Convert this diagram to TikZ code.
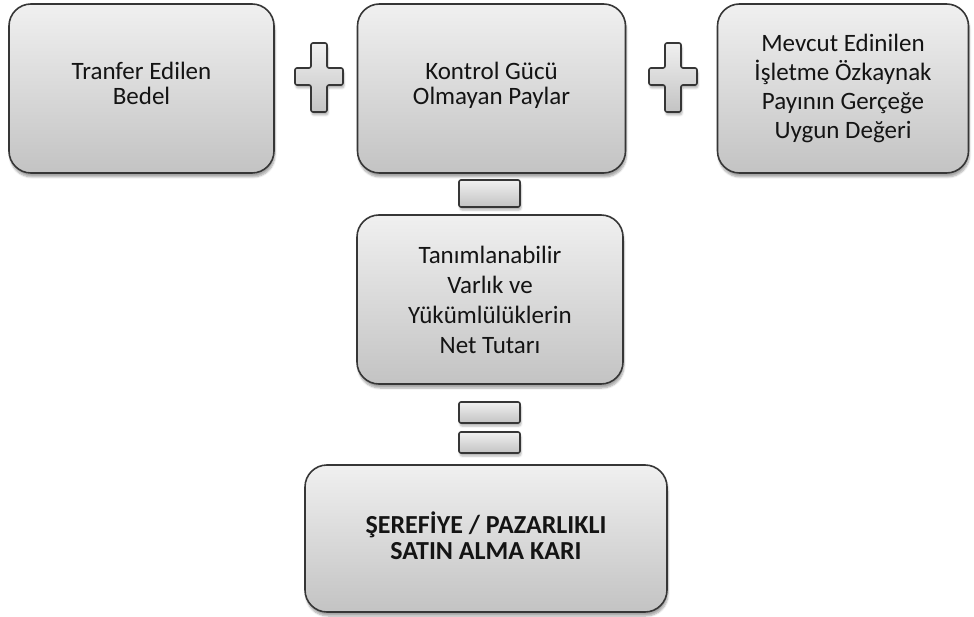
\documentclass[tikz,border=0pt]{standalone}
\usepackage{fontspec}
\setmainfont{Carlito}
\usepackage{tikz}
\usetikzlibrary{shadows.blur}
\usepackage{xcolor}
\definecolor{edge}{HTML}{363636}
\definecolor{filltop}{HTML}{F0F0F0}
\definecolor{fillbot}{HTML}{C3C3C3}
\definecolor{ink}{HTML}{141414}
\tikzset{
    box/.style={
        draw=edge,
        line width=1.6pt,
        rounded corners=22pt,
        top color=filltop,
        bottom color=fillbot,
        blur shadow={shadow xshift=1pt,shadow yshift=-4pt,shadow blur steps=6,shadow opacity=35},
        align=center,
        text=ink,
        inner sep=0pt
    },
    sign/.style={
        draw=edge,
        line width=1.6pt,
        rounded corners=2pt,
        top color=filltop,
        bottom color=fillbot,
        blur shadow={shadow xshift=1pt,shadow yshift=-3pt,shadow blur steps=4,shadow opacity=30}
    },
    boxtext/.style={
        font=\fontsize{25}{#1}\selectfont
    }
}

\begin{document}
\begin{tikzpicture}[x=1pt,y=-1pt]

    \useasboundingbox (0,0) rectangle (974,617);

    % Ust sira
    \node[box,boxtext=25,text depth=11pt,minimum width=265pt,minimum height=169pt]
        (bedel) at (141.5,88.5)
        {Tranfer Edilen\\Bedel};

    \node[box,boxtext=25,text depth=11pt,minimum width=268pt,minimum height=169pt]
        (kontrol) at (491.5,88.5)
        {Kontrol Gücü\\Olmayan Paylar};

    \node[box,boxtext=29,minimum width=251pt,minimum height=169pt]
        (ozkaynak) at (843,88.5)
        {Mevcut Edinilen\\İşletme Özkaynak\\Payının Gerçeğe\\Uygun Değeri};

    % Orta kutu
    \node[box,boxtext=30,minimum width=266pt,minimum height=169pt]
        (varlik) at (490,299.5)
        {Tanımlanabilir\\Varlık ve\\Yükümlülüklerin\\Net Tutarı};

    % Sonuc
    \node[box,font=\fontsize{26}{26}\selectfont\bfseries,text depth=6pt,minimum width=362pt,minimum height=147pt]
        (serefiye) at (486,538.5)
        {ŞEREFİYE / PAZARLIKLI\\SATIN ALMA KARI};

    % Arti isaretleri
    \foreach \cx in {319,673}{
        \draw[sign]
            ({\cx-8},43) -- ({\cx+8},43) -- ({\cx+8},68) -- ({\cx+24},68)
            -- ({\cx+24},85) -- ({\cx+8},85) -- ({\cx+8},112) -- ({\cx-8},112)
            -- ({\cx-8},85) -- ({\cx-24},85) -- ({\cx-24},68) -- ({\cx-8},68)
            -- cycle;
    }

    % Eksi isareti
    \draw[sign] (459,180) rectangle (520,207);

    % Esittir isareti
    \draw[sign] (459,402) rectangle (520,423);
    \draw[sign] (459,432) rectangle (520,453);

\end{tikzpicture}
\end{document}
